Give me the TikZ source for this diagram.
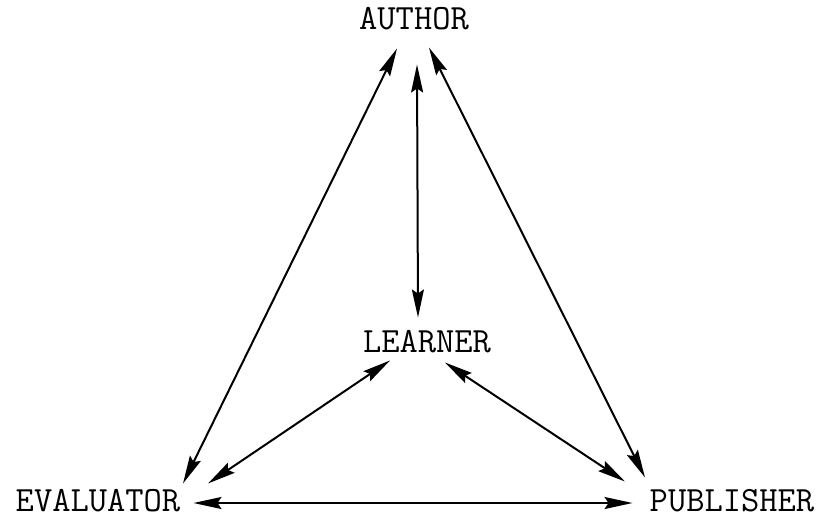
\documentclass[tikz,border=0pt]{standalone}
\usetikzlibrary{arrows.meta}
\begin{document}
\begin{tikzpicture}[x=1pt,y=1pt,
  lbl/.style={inner sep=0pt,font=\fontsize{35.5}{36}\selectfont\ttfamily},
  arr/.style={line width=2pt,{Stealth[length=28pt,width=12pt,inset=4pt]}-{Stealth[length=28pt,width=12pt,inset=4pt]}}]
\useasboundingbox (0,0) rectangle (819,-520);
\node[lbl] (A) at (414,-19) {AUTHOR};
\node[lbl] (L) at (427,-342) {LEARNER};
\node[lbl] (E) at (98,-501) {EVALUATOR};
\node[lbl] (P) at (732,-501) {PUBLISHER};
\draw[arr] ([xshift=-17pt,yshift=-18pt]A.south) -- ([xshift=85pt,yshift=6pt]E.north);
\draw[arr] ([xshift=3pt,yshift=-34pt]A.south) -- ([xshift=-9pt,yshift=13pt]L.north);
\draw[arr] ([xshift=15pt,yshift=-17pt]A.south) -- ([xshift=-87pt,yshift=12pt]P.north);
\draw[arr] ([xshift=-37pt,yshift=-7pt]L.south) -- ([xshift=110pt,yshift=6pt]E.north);
\draw[arr] ([xshift=18pt,yshift=-9pt]L.south) -- ([xshift=-107pt,yshift=8pt]P.north);
\draw[arr] ([xshift=13pt,yshift=-2pt]E.east) -- ([xshift=-17pt,yshift=-2pt]P.west);
\end{tikzpicture}
\end{document}
